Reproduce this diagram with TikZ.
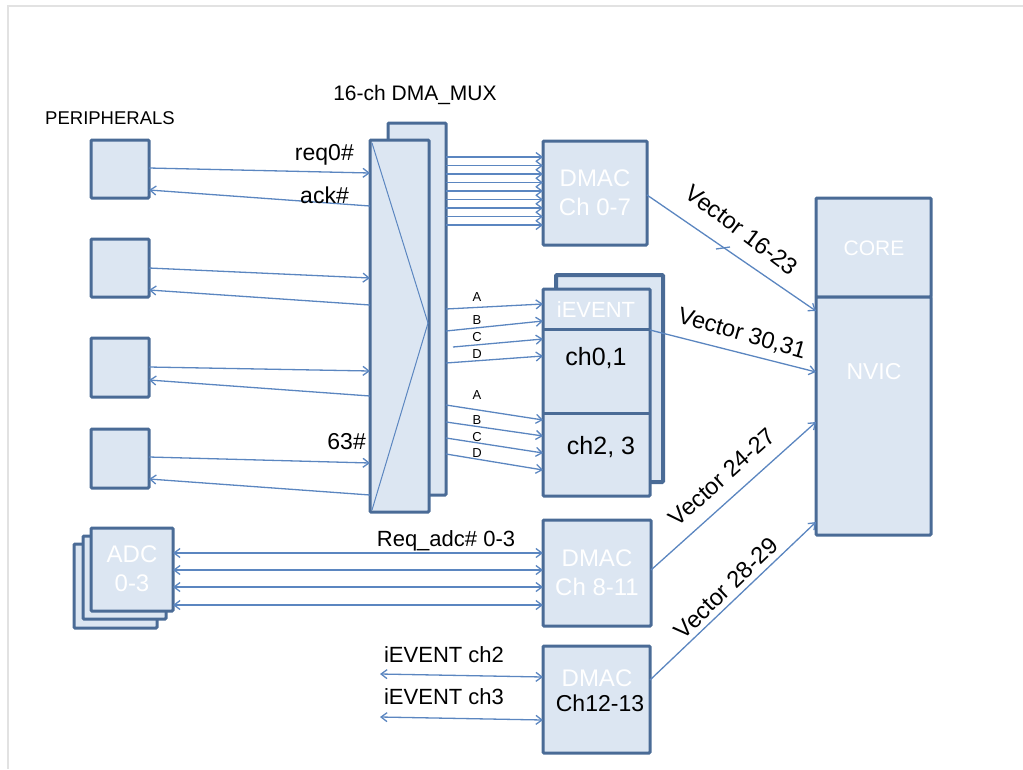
\documentclass[tikz,border=0pt]{standalone}
\usepackage{fontspec}
\setmainfont{Liberation Sans}
\usetikzlibrary{arrows.meta,calc}
\definecolor{boxfill}{HTML}{DCE6F2}
\definecolor{boxdraw}{HTML}{4A6B96}
\definecolor{arrcol}{HTML}{5B86C0}
\definecolor{framegray}{HTML}{E2E2E2}
\begin{document}
\begin{tikzpicture}[x=1pt,y=-1pt,
 box/.style={draw=boxdraw, fill=boxfill, line width=3pt, inner sep=0pt, outer sep=0pt, anchor=north west, rounded corners=1pt},
 wlab/.style={text=white, font=\fontsize{24}{29}\selectfont, align=center, inner sep=0pt},
 blab/.style={text=black, font=\fontsize{22}{26}\selectfont, inner sep=0pt},
 vlab/.style={text=black, font=\fontsize{23.5}{26}\selectfont, inner sep=0pt},
 small/.style={text=black, font=\fontsize{13}{14}\selectfont, inner sep=0pt},
 conn/.style={draw=arrcol, line width=1.3pt},
 ar/.style={conn, -{Straight Barb[length=6pt,width=9pt]}},
 dar/.style={conn, {Straight Barb[length=6pt,width=9pt]}-{Straight Barb[length=6pt,width=9pt]}},
]
\useasboundingbox (0,0) rectangle (1023,769);
% frame
\coordinate (fTL) at (8,6);
\coordinate (fTR) at (1023,6);
\coordinate (fBL) at (8,769);
\draw[framegray, line width=2pt] (fBL) -- (fTL) -- (fTR);

% peripherals
\node[blab, font=\fontsize{18.5}{20}\selectfont] (perlab) at (110,118) {PERIPHERALS};
\node[box, minimum width=58pt, minimum height=58pt] (p1) at (91,140) {};
\node[box, minimum width=58pt, minimum height=58pt] (p2) at (91,239) {};
\node[box, minimum width=58pt, minimum height=59pt] (p3) at (91,338) {};
\node[box, minimum width=58pt, minimum height=59pt] (p4) at (91,429) {};

% mux
\node[blab, font=\fontsize{21}{22}\selectfont] (muxlab) at (415,95) {16-ch DMA\_MUX};
\node[box, minimum width=58pt, minimum height=372pt] (muxb) at (388,123) {};
\node[box, minimum width=59pt, minimum height=372pt] (muxf) at (370,140) {};
\coordinate (mx1) at (372,143);
\coordinate (mx2) at (428,323);
\coordinate (mx3) at (372,510);
\draw[conn, line width=1pt] (mx1) -- (mx2) -- (mx3);

% peripheral <-> mux
\draw[ar] (p1.east |- 0,168) -- (muxf.west |- 0,173);
\draw[ar] (muxf.west |- 0,206) -- (p1.east |- 0,190);
\draw[ar] (p2.east |- 0,268) -- (muxf.west |- 0,278);
\draw[ar] (muxf.west |- 0,305) -- (p2.east |- 0,290);
\draw[ar] (p3.east |- 0,367) -- (muxf.west |- 0,371);
\draw[ar] (muxf.west |- 0,396) -- (p3.east |- 0,380);
\draw[ar] (p4.east |- 0,457) -- (muxf.west |- 0,463);
\draw[ar] (muxf.west |- 0,495) -- (p4.east |- 0,479);
\node[blab, font=\fontsize{23}{26}\selectfont, anchor=east] (req0) at (354,155) {req0\#};
\node[blab, font=\fontsize{23}{26}\selectfont, anchor=east] (ack) at (349,195) {ack\#};
\node[blab, font=\fontsize{23}{26}\selectfont, anchor=east] (l63) at (366,442) {63\#};

% DMAC Ch 0-7
\node[box, minimum width=104pt, minimum height=104pt] (dmac0) at (543,141) {};
\node[wlab] (dmac0t) at (dmac0.center) {DMAC\\Ch 0-7};
\foreach \k in {0,...,8} {
  \draw[ar] (muxb.east |- 0,{157+8.5*\k}) -- (dmac0.west |- 0,{157+8.5*\k});
}

% iEVENT
\node[box, line width=4pt, minimum width=107pt, minimum height=207pt] (evb) at (556,275) {};
\node[box, minimum width=107pt, minimum height=207pt] (evf) at (543,289) {};
\draw[boxdraw, line width=3pt] (evf.west |- 0,329) -- (evf.east |- 0,329);
\draw[boxdraw, line width=3pt] (evf.west |- 0,413) -- (evf.east |- 0,413);
\node[wlab, font=\fontsize{22}{24}\selectfont] (evt) at (596,310) {iEVENT};
\node[blab, font=\fontsize{25}{27}\selectfont] (ch01) at (596,358) {ch0,1};
\node[blab, font=\fontsize{25}{27}\selectfont] (ch23) at (601,447) {ch2, 3};

% A-D lines top group
\draw[ar] (muxb.east |- 0,309) -- (evf.west |- 0,304);
\draw[ar] (muxb.east |- 0,331) -- (evf.west |- 0,321);
\coordinate (cst) at (453,347);
\draw[ar] (cst) -- (evf.west |- 0,339);
\draw[ar] (muxb.east |- 0,363) -- (evf.west |- 0,356);
\node[small] (ta) at (477,297) {A};
\node[small] (tb) at (477,320) {B};
\node[small] (tc) at (477,337) {C};
\node[small] (td) at (477,354) {D};
% A-D lines bottom group
\draw[ar] (muxb.east |- 0,405) -- (evf.west |- 0,420);
\draw[ar] (muxb.east |- 0,422) -- (evf.west |- 0,436);
\draw[ar] (muxb.east |- 0,438) -- (evf.west |- 0,453);
\draw[ar] (muxb.east |- 0,454) -- (evf.west |- 0,470);
\node[small] (ba) at (477,395) {A};
\node[small] (bb) at (477,420) {B};
\node[small] (bc) at (477,437) {C};
\node[small] (bd) at (477,453) {D};

% CORE / NVIC
\node[box, minimum width=115pt, minimum height=99pt] (core) at (816,198) {};
\node[box, minimum width=115pt, minimum height=238pt] (nvic) at (816,297) {};
\node[wlab, font=\fontsize{21}{24}\selectfont] (coret) at (874,248) {CORE};
\node[wlab, font=\fontsize{23}{24}\selectfont] (nvict) at (874,372) {NVIC};

% ADC
\node[box, minimum width=83pt, minimum height=84pt] (adc3) at (74,544) {};
\node[box, minimum width=83pt, minimum height=83pt] (adc2) at (83,536) {};
\node[box, minimum width=82pt, minimum height=83pt] (adc1) at (91,528) {};
\node[wlab] (adct) at (132,569) {ADC\\0-3};

% DMAC Ch 8-11
\node[box, minimum width=108pt, minimum height=106pt] (dmac8) at (543,520) {};
\node[wlab] (dmac8t) at (597,573) {DMAC\\Ch 8-11};
\foreach \yy in {553,570,587,605} {
  \draw[dar] (adc1.east |- 0,\yy) -- (dmac8.west |- 0,\yy);
}
\node[blab] (reqadc) at (446,541) {Req\_adc\# 0-3};

% DMAC Ch12-13
\node[box, minimum width=107pt, minimum height=107pt] (dmac12) at (543,646) {};
\node[wlab] (dmac12t) at (597,678) {DMAC};
\node[blab, font=\fontsize{23}{26}\selectfont] (dmac12c) at (600,703) {Ch12-13};
\coordinate (ev2end) at (380,674);
\coordinate (ev3end) at (380,717);
\draw[dar] (ev2end) -- (dmac12.west |- 0,677);
\draw[dar] (ev3end) -- (dmac12.west |- 0,720);
\node[blab] (ev2lab) at (444,655) {iEVENT ch2};
\node[blab] (ev3lab) at (444,697) {iEVENT ch3};

% vectors to NVIC
\draw[ar] (dmac0.east |- 0,195) -- (nvic.west |- 0,311);
\coordinate (tk1) at (716,249);
\coordinate (tk2) at (730,247);
\draw[conn] (tk1) -- (tk2);
\draw[ar] (evf.east |- 0,330) -- (nvic.west |- 0,372);
\draw[ar] (dmac8.east |- 0,570) -- (nvic.west |- 0,422);
\draw[ar] (dmac12.east |- 0,680) -- (nvic.west |- 0,522);
\node[vlab, rotate=-37] (v1) at (742,230) {Vector 16-23};
\node[vlab, rotate=-16] (v2) at (742,334) {Vector 30,31};
\node[vlab, rotate=42] (v3) at (722,477) {Vector 24-27};
\node[vlab, rotate=44] (v4) at (726,588) {Vector 28-29};
\end{tikzpicture}
\end{document}
